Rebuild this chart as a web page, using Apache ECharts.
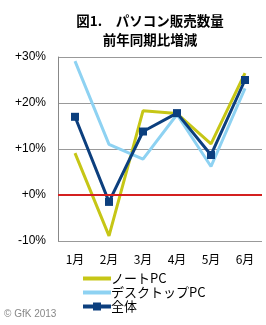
<!DOCTYPE html>
<html>
<head>
<meta charset="utf-8">
<script src="https://cdn.jsdelivr.net/npm/echarts@6/dist/echarts.min.js"></script>
<style>
  html, body { margin: 0; padding: 0; background: #fff; }
  #chart-container { width: 266px; height: 325px; }
</style>
</head>
<body>
<div id="chart-container"></div>
<script>
// data (% change vs same month a year earlier)
var months = ["1月", "2月", "3月", "4月", "5月", "6月"];
var notePC = [9.1, -8.9, 18.3, 17.7, 11.1, 26.5];
var desktopPC = [29.1, 11.0, 7.8, 17.5, 6.2, 23.2];
var total = [17.0, -1.5, 13.8, 17.8, 8.7, 25.0];

var dom = document.getElementById("chart-container");
var myChart = echarts.init(dom);
var font = "'Noto Sans CJK JP', 'Liberation Sans', sans-serif";

var option = {
  animation: false,
  textStyle: { fontFamily: font },
  title: {
    text: "図1.　パソコン販売数量\n前年同期比増減",
    left: 145,
    textAlign: "center",
    top: 6,
    textStyle: { fontSize: 13.5, fontWeight: "bold", color: "#000", lineHeight: 19, fontFamily: font }
  },
  graphic: [{
    type: "text",
    left: 4,
    top: 309,
    style: { text: "© GfK 2013", fill: "#888", fontSize: 10, fontFamily: "'Liberation Sans', sans-serif" }
  }],
  legend: {
    orient: "vertical",
    left: 76,
    top: 267,
    itemWidth: 28,
    itemHeight: 10,
    itemGap: 1,
    textStyle: { fontSize: 13, color: "#000", fontFamily: font, padding: [0, 0, 0, -5] },
    data: [
      { name: "ノートPC", itemStyle: { opacity: 0 }, lineStyle: { width: 4 } },
      { name: "デスクトップPC", itemStyle: { opacity: 0 }, lineStyle: { width: 4 } },
      { name: "全体", lineStyle: { width: 4 } }
    ]
  },
  grid: { left: 58, right: 4, top: 57, bottom: 84 },
  xAxis: {
    type: "category",
    data: months,
    boundaryGap: true,
    axisLine: { show: false },
    axisTick: { show: false },
    axisLabel: { color: "#000", fontSize: 12, margin: 12 }
  },
  yAxis: {
    type: "value",
    min: -10,
    max: 30,
    interval: 10,
    axisLine: { show: true, lineStyle: { color: "#888" } },
    axisTick: { show: false },
    axisLabel: {
      color: "#000",
      fontSize: 12,
      margin: 12,
      fontFamily: "'Liberation Sans', sans-serif",
      formatter: function (v) { return (v >= 0 ? "+" : "") + v + "%"; }
    },
    splitLine: { show: true, lineStyle: { color: "#999", width: 1 } }
  },
  series: [
    {
      name: "ノートPC",
      type: "line",
      data: notePC,
      symbol: "none",
      lineStyle: { color: "#c6c616", width: 3 },
      itemStyle: { color: "#c6c616" },
      markLine: {
        silent: true,
        symbol: "none",
        label: { show: false },
        lineStyle: { color: "#d42020", width: 2, type: "solid" },
        data: [{ yAxis: 0 }]
      }
    },
    {
      name: "デスクトップPC",
      type: "line",
      data: desktopPC,
      symbol: "none",
      lineStyle: { color: "#8ed2f2", width: 3 },
      itemStyle: { color: "#8ed2f2" }
    },
    {
      name: "全体",
      type: "line",
      data: total,
      symbol: "rect",
      symbolSize: 8,
      lineStyle: { color: "#0c3f7e", width: 3 },
      itemStyle: { color: "#0c3f7e" }
    }
  ]
};

if (option && typeof option === "object") {
  myChart.setOption(option, true);
}
</script>
</body>
</html>
